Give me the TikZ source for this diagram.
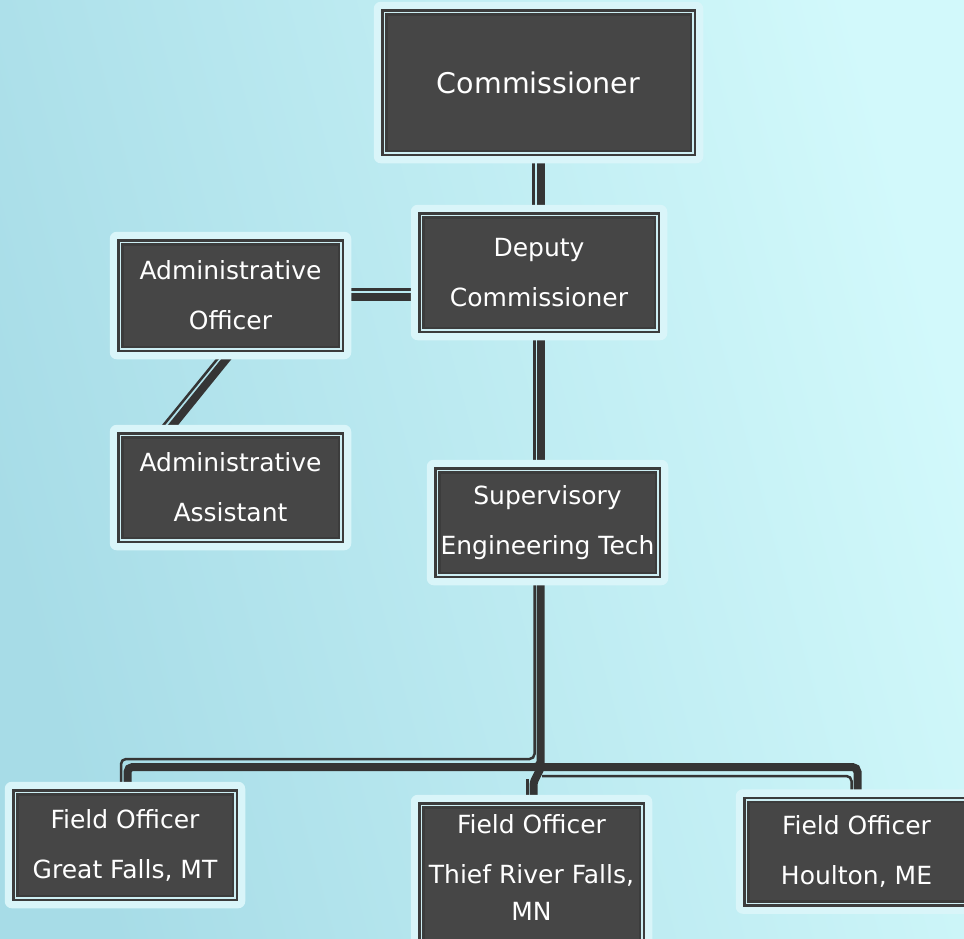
\documentclass[tikz,border=0pt]{standalone}
\usepackage{fontspec}
\setmainfont{DejaVu Sans}
\usetikzlibrary{calc}
\definecolor{bgA}{HTML}{A7DCE7}
\definecolor{bgB}{HTML}{D2F9FB}
\definecolor{halo}{HTML}{D9F5F9}
\definecolor{boxfill}{HTML}{464646}
\definecolor{boxline}{HTML}{3C3C3C}
\definecolor{inline}{HTML}{CDEEF3}
\definecolor{conn}{HTML}{353535}
\pgfdeclarelayer{bg}
\pgfdeclarelayer{halolayer}
\pgfsetlayers{bg,halolayer,main}
\tikzset{
  orgbox/.style={rectangle, fill=boxfill, draw=boxline, double=inline, double distance=1.5pt,
    line width=2.5pt, inner sep=0pt, outer sep=0pt, text=white, align=center,
    font=\fontsize{25}{50}\selectfont},
  txt/.style={text=white, align=center, inner sep=0pt, font=\fontsize{25}{50}\selectfont},
  thk/.style={draw=conn, line width=8pt, rounded corners=5pt},
  thn/.style={draw=conn, line width=2.5pt, rounded corners=5pt}
}
\begin{document}
\begin{tikzpicture}[x=1pt,y=-1pt]
\useasboundingbox (0,0) rectangle (964,938);
\clip (0,0) rectangle (964,938);
% boxes
\node[orgbox, minimum width=308.5pt, minimum height=140.5pt, font=\fontsize{28.5}{34}\selectfont] (comm) at (538.5,82.5) {Commissioner};
\node[orgbox, minimum width=235.5pt, minimum height=114.5pt] (dep) at (539,272.5) {Deputy\\Commissioner};
\node[orgbox, minimum width=220.5pt, minimum height=106.5pt] (ao) at (230.5,295.5) {Administrative\\Officer};
\node[orgbox, minimum width=220.5pt, minimum height=104.5pt] (aa) at (230.5,487.5) {Administrative\\Assistant};
\node[orgbox, minimum width=220.5pt, minimum height=104.5pt] (set) at (547.5,522.5) {Supervisory\\Engineering Tech};
\node[orgbox, minimum width=219.5pt, minimum height=105.5pt] (gf) at (125,845) {Field Officer\\Great Falls, MT};
\node[orgbox, minimum width=220.5pt, minimum height=139.5pt] (trf) at (531.5,875) {};
\node[txt] (trftext) at (531.5,867) {Field Officer\\Thief River Falls,\\[-13pt]MN};
\node[orgbox, minimum width=220.5pt, minimum height=103.5pt] (hou) at (856.5,851.5) {Field Officer\\Houlton, ME};
% halos
\begin{pgfonlayer}{halolayer}
\foreach \n in {comm,dep,ao,aa,set,gf,trf,hou}
  \fill[halo, rounded corners=7pt] ([shift={(-10.5pt,-10.5pt)}]\n.south west) rectangle ([shift={(10.5pt,10.5pt)}]\n.north east);
\end{pgfonlayer}
% background and connectors
\begin{pgfonlayer}{bg}
\fill[left color=bgA, right color=bgB, shading angle=105] (0,0) rectangle (964,938);
\coordinate (jt) at (540.5,767);
\coordinate (jn) at (534.5,759);
\coordinate (jr) at (542,776);
\coordinate (mk) at (533.5,786);
\coordinate (mn) at (527.5,779);
\coordinate (gft) at ([xshift=2.5pt]gf.center);
\coordinate (gfn) at ([xshift=-4pt]gf.center);
\coordinate (hout) at ([xshift=1pt]hou.center);
\coordinate (houn) at ([xshift=-5pt]hou.center);
\coordinate (trfk) at ([xshift=2pt]trf.center);
\coordinate (trfn) at ([xshift=-4pt]trf.center);
% commissioner - deputy
\draw[thk] ([xshift=2.5pt]comm.center) -- ([xshift=2.5pt]comm.center |- dep.center);
\draw[thn] ([xshift=-5pt]comm.center) -- ([xshift=-5pt]comm.center |- dep.center);
% deputy - admin officer
\draw[thk] ([yshift=-24.5pt]dep.center) -- ([yshift=-24.5pt]dep.center -| ao.center);
\draw[thn] ([yshift=-17pt]dep.center) -- ([yshift=-17pt]dep.center -| ao.center);
% admin officer - admin assistant
\draw[thk] ([xshift=4.2pt]ao.south) -- ([xshift=-65.8pt]aa.north);
\draw[thn] ([xshift=-4.8pt]ao.south) -- ([xshift=-75.3pt]aa.north);
% deputy - supervisory
\draw[thk] ([xshift=1.5pt]dep.center) -- ([xshift=1.5pt]dep.center |- set.center);
\draw[thn] ([xshift=-4.5pt]dep.center) -- ([xshift=-4.5pt]dep.center |- set.center);
% supervisory - field officers
\draw[thk] ([xshift=-7pt]set.center) -- (jt) -- (jt -| gft) -- (gft);
\draw[thn] ([xshift=-13pt]set.center) -- (jn) -- (jn -| gfn) -- (gfn);
\draw[thk] (jt) -- (jt -| hout) -- (hout);
\draw[thn] (jr) -- (jr -| houn) -- (houn);
\draw[draw=conn, line width=8pt] ([yshift=2pt]jt) to[out=-90,in=90] (mk) -- (trfk);
\draw[thn] (mn) -- (trfn);
\end{pgfonlayer}
\end{tikzpicture}
\end{document}
